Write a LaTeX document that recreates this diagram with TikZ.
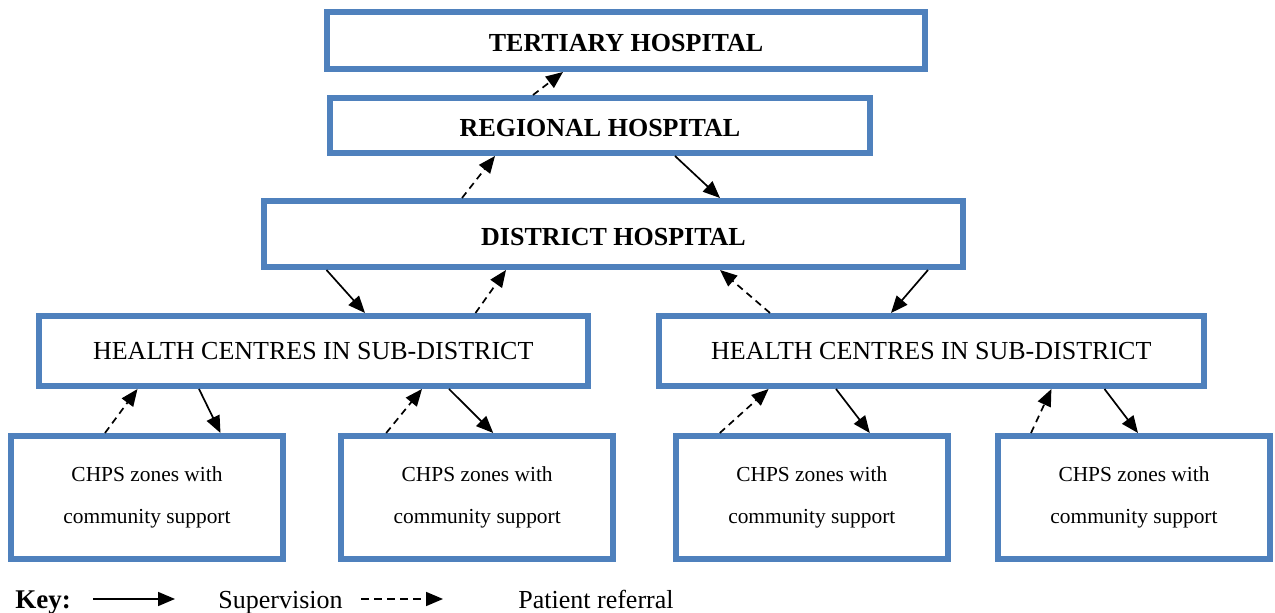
\documentclass[tikz,border=0pt]{standalone}
\usepackage{fontspec}
\setmainfont{Liberation Serif}
\usepackage{xcolor}
\usetikzlibrary{arrows.meta,calc}
\definecolor{boxblue}{HTML}{4F81BD}

\begin{document}
\begin{tikzpicture}[x=0.5pt,y=-0.5pt,>={Triangle[length=8.5pt,width=7pt]},
  level/.style={draw=boxblue,line width=3pt,fill=white,inner sep=0pt},
  hosp/.style={level,font=\bfseries\fontsize{13}{15}\selectfont,text height=11.5pt},
  centre/.style={level,font=\fontsize{13}{15}\selectfont,minimum height=35pt},
  chps/.style={level,font=\fontsize{10.7}{21}\selectfont,align=center,
    minimum width=136pt,minimum height=61.5pt},
  keytxt/.style={anchor=base west,inner sep=0pt,font=\fontsize{13}{15}\selectfont},
  supline/.style={->,line width=0.85pt},
  refline/.style={->,line width=0.85pt,dash pattern=on 3.5pt off 2.5pt}]
\useasboundingbox (0,0) rectangle (1275,613);
%%%LEVELS
\node[hosp,minimum width=299pt,minimum height=28.5pt] (tert) at (626,40.5) {TERTIARY HOSPITAL};
\node[hosp,minimum width=270pt,minimum height=27.5pt] (reg) at (600,125.5) {REGIONAL HOSPITAL};
\node[hosp,minimum width=349.5pt,minimum height=33pt] (dist) at (613.5,234) {DISTRICT HOSPITAL};
\node[centre,minimum width=274.75pt] (hcl) at (313.25,351) {HEALTH CENTRES IN SUB-DISTRICT};
\node[centre,minimum width=272.25pt] (hcr) at (931.25,351) {HEALTH CENTRES IN SUB-DISTRICT};
\node[chps] (chpsa) at (147,497.5) {CHPS zones with\\community support};
\node[chps] (chpsb) at (477.2,497.5) {CHPS zones with\\community support};
\node[chps] (chpsc) at (811.8,497.5) {CHPS zones with\\community support};
\node[chps] (chpsd) at (1134,497.5) {CHPS zones with\\community support};
%%%SUPERVISION
\draw[supline] ($(reg.south west)+(348,0)$) -- ($(dist.north west)+(459,0)$);
\draw[supline] ($(dist.south west)+(65.5,0)$) -- ($(hcl.north west)+(329.5,0)$);
\draw[supline] ($(dist.south west)+(667,0)$) -- ($(hcr.north west)+(235,0)$);
\draw[supline] ($(hcl.south west)+(163.5,0)$) -- ($(chpsa.north west)+(212.5,0)$);
\draw[supline] ($(hcl.south west)+(413.5,0)$) -- ($(chpsb.north west)+(155,0)$);
\draw[supline] ($(hcr.south west)+(180,0)$) -- ($(chpsc.north west)+(197,0)$);
\draw[supline] ($(hcr.south west)+(448.5,0)$) -- ($(chpsd.north west)+(143,0)$);
%%%REFERRALS
\draw[refline] ($(reg.north west)+(206,0)$) -- ($(tert.south west)+(239,0)$);
\draw[refline] ($(dist.north west)+(201,0)$) -- ($(reg.south west)+(168,0)$);
\draw[refline] ($(hcl.north west)+(440,0)$) -- ($(dist.south west)+(245,0)$);
\draw[refline] ($(hcr.north west)+(114,0)$) -- ($(dist.south west)+(459,0)$);
\draw[refline] ($(chpsa.north west)+(97,0)$) -- ($(hcl.south west)+(102,0)$);
\draw[refline] ($(chpsb.north west)+(48,0)$) -- ($(hcl.south west)+(386.5,0)$);
\draw[refline] ($(chpsc.north west)+(47,0)$) -- ($(hcr.south west)+(112.6,0)$);
\draw[refline] ($(chpsd.north west)+(36,0)$) -- ($(hcr.south west)+(395.4,0)$);
%%%KEY
\node[keytxt,font=\bfseries\fontsize{13.5}{15}\selectfont] (keylbl) at (15,609) {Key:};
\coordinate (supa) at (93,599);
\coordinate (supb) at (175,599);
\draw[supline] (supa) -- (supb);
\node[keytxt] (suptxt) at (218,609) {Supervision};
\coordinate (refa) at (361,599);
\coordinate (refb) at (443,599);
\draw[refline,dash pattern=on 4pt off 2.5pt] (refa) -- (refb);
\node[keytxt] (reftxt) at (518,609) {Patient referral};
\end{tikzpicture}
\end{document}
